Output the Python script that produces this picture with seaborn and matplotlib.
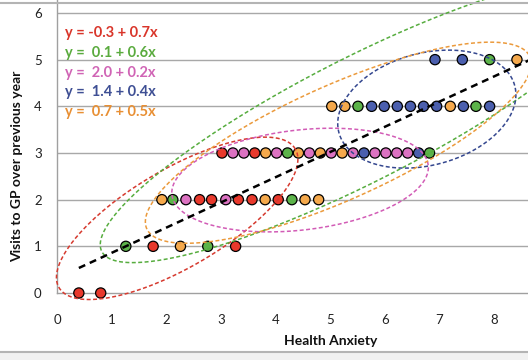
import numpy as np
import pandas as pd
import seaborn as sns
import matplotlib.pyplot as plt
from matplotlib.lines import Line2D
from matplotlib.patches import Rectangle

# -------------------- Data --------------------

# Health anxiety scores on each row of GP visits (0..5) and the group of each point
anxiety_v0 = [0.40, 0.80]
group_v0 = ['red', 'red']

anxiety_v1 = [1.26, 1.76, 2.26, 2.76, 3.27]
group_v1 = ['green', 'red', 'orange', 'green', 'red']

anxiety_v2 = [1.92, 2.12, 2.36, 2.61, 2.83, 3.09, 3.32, 3.57, 3.81, 4.05, 4.30, 4.54, 4.79]
group_v2 = ['orange', 'green', 'pink', 'red', 'red', 'pink', 'red', 'red', 'orange',
            'red', 'green', 'orange', 'orange']

anxiety_v3 = [3.02, 3.22, 3.42, 3.62, 3.82, 4.02, 4.22, 4.42, 4.62, 4.82,
              5.02, 5.22, 5.42, 5.62, 5.82, 6.02, 6.22, 6.42, 6.62, 6.82]
group_v3 = ['red', 'pink', 'pink', 'red', 'orange', 'pink', 'green', 'orange', 'pink', 'orange',
            'pink', 'orange', 'pink', 'blue', 'pink', 'pink', 'pink', 'pink', 'blue', 'green']

anxiety_v4 = [5.03, 5.27, 5.51, 5.76, 5.99, 6.23, 6.47, 6.71, 6.95, 7.20, 7.44, 7.67, 7.92]
group_v4 = ['orange', 'orange', 'green', 'blue', 'blue', 'blue', 'blue', 'blue', 'blue',
            'orange', 'blue', 'green', 'blue']

anxiety_v5 = [6.92, 7.42, 7.92, 8.42]
group_v5 = ['blue', 'blue', 'green', 'orange']

# Per-group regression equations (as printed on the chart)
groups = ['red', 'green', 'pink', 'blue', 'orange']
intercepts = [-0.3, 0.1, 2.0, 1.4, 0.7]
slopes = [0.7, 0.6, 0.2, 0.4, 0.5]

# Pooled regression line
pooled_intercept = 0.32
pooled_slope = 0.54
pooled_x = [0.40, 8.70]

x_ticks = [0, 1, 2, 3, 4, 5, 6, 7, 8]
y_ticks = [0, 1, 2, 3, 4, 5, 6]

# -------------------- Styles --------------------

point_colors = {'red': '#e8392c', 'green': '#5cb34a', 'pink': '#dc72c2',
                'blue': '#4b5fae', 'orange': '#f5a94c'}
line_colors = {'red': '#d63a2f', 'green': '#57ad3f', 'pink': '#d25cb6',
               'blue': '#34478f', 'orange': '#eb9a3c'}
text_colors = {'red': '#d9352a', 'green': '#5aab3e', 'pink': '#d064b5',
               'blue': '#3e4f94', 'orange': '#e88f33'}

# group ellipses: centre in data units, semi-axes in pixels, tilt in degrees
ellipses = {
    'red':    dict(center=(2.20, 1.60), a=137, b=49, angle=30.4),
    'green':  dict(center=(5.55, 3.71), a=290, b=62, angle=27.0),
    'pink':   dict(center=(4.45, 2.42), a=129, b=50, angle=6.6),
    'blue':   dict(center=(6.77, 3.94), a=91, b=56, angle=15.0),
    'orange': dict(center=(5.15, 3.22), a=210, b=57, angle=24.2),
}


def build_frame():
    rows = [anxiety_v0, anxiety_v1, anxiety_v2, anxiety_v3, anxiety_v4, anxiety_v5]
    grps = [group_v0, group_v1, group_v2, group_v3, group_v4, group_v5]
    parts = []
    for visits, (xs, gs) in enumerate(zip(rows, grps)):
        parts.append(pd.DataFrame({'anxiety': xs, 'visits': visits, 'group': gs}))
    return pd.concat(parts, ignore_index=True)


def draw_ellipse(ax, center, a, b, angle, color):
    t = np.linspace(0, 2 * np.pi, 400)
    th = np.deg2rad(angle)
    cx, cy = ax.transData.transform(center)
    px = cx + a * np.cos(t) * np.cos(th) - b * np.sin(t) * np.sin(th)
    py = cy + a * np.cos(t) * np.sin(th) + b * np.sin(t) * np.cos(th)
    pts = ax.transData.inverted().transform(np.column_stack([px, py]))
    ax.plot(pts[:, 0], pts[:, 1], color=color, lw=1.1, ls=(0, (2.6, 1.6)),
            clip_on=False, zorder=4)


def main():
    df = build_frame()

    sns.set_theme(style='white')
    plt.rcParams['font.family'] = ['Lato', 'DejaVu Sans']

    fig = plt.figure(figsize=(5.28, 3.6), dpi=100)
    ax = fig.add_axes([57 / 528, 67 / 360, 471 / 528, 293 / 360])
    ax.set_xlim(0, 471 / 54.625)
    ax.set_ylim(0, 293 / 46.67)

    # horizontal gridlines
    for yv in y_ticks[1:]:
        ax.axhline(yv, color='#a8a8a8', lw=1.0, zorder=1)

    sns.scatterplot(data=df, x='anxiety', y='visits', hue='group', palette=point_colors,
                    s=54, edgecolor='black', linewidth=0.9, legend=False,
                    clip_on=False, zorder=3, ax=ax)

    for g in groups:
        draw_ellipse(ax, color=line_colors[g], **ellipses[g])

    xs = np.array(pooled_x)
    ax.plot(xs, pooled_intercept + pooled_slope * xs, color='black', lw=1.8,
            ls=(0, (2.8, 2.0)), zorder=5, clip_on=True)

    # equations
    for i, (g, b0, b1) in enumerate(zip(groups, intercepts, slopes)):
        sign = '-' if b0 < 0 else ' '
        label = f'y = {sign}{abs(b0):.1f} + {b1:.1f}x'
        ax.text(8 / 471, 0.887 - i * 0.0673, label, transform=ax.transAxes,
                color=text_colors[g], fontsize=10.5, fontweight='bold',
                ha='left', va='center', zorder=6)

    # axes styling
    for side in ['top', 'right']:
        ax.spines[side].set_visible(False)
    for side in ['left', 'bottom']:
        ax.spines[side].set_color('#a0a0a0')
        ax.spines[side].set_linewidth(1.0)
    ax.set_xticks(x_ticks)
    ax.set_yticks(y_ticks)
    ax.tick_params(axis='x', length=4, color='#a0a0a0', labelsize=9.5, pad=11,
                   labelcolor='#222222')
    ax.tick_params(axis='y', length=5, color='#a0a0a0', labelsize=9.5, pad=6,
                   labelcolor='#222222')

    ax.set_xlabel('Health Anxiety', fontsize=10, fontweight='bold', color='#111111')
    ax.set_ylabel('Visits to GP over previous year', fontsize=10, fontweight='bold',
                  color='#111111')
    ax.xaxis.set_label_coords(274 / 471, -42 / 293)
    ax.yaxis.set_label_coords(-34 / 471, 127 / 293)

    # frame lines of the original figure
    fig.add_artist(Line2D([0, 1], [1 - 3 / 360] * 2, transform=fig.transFigure,
                          color='#b4b4b4', lw=1.5))
    fig.add_artist(Rectangle((0, 0), 1, 8 / 360, transform=fig.transFigure,
                             facecolor='#f1f1f1', edgecolor='none'))
    fig.add_artist(Line2D([0, 1], [8 / 360] * 2, transform=fig.transFigure,
                          color='#b4b4b4', lw=1.5))

    fig.savefig('out.png', dpi=100)


if __name__ == '__main__':
    main()
